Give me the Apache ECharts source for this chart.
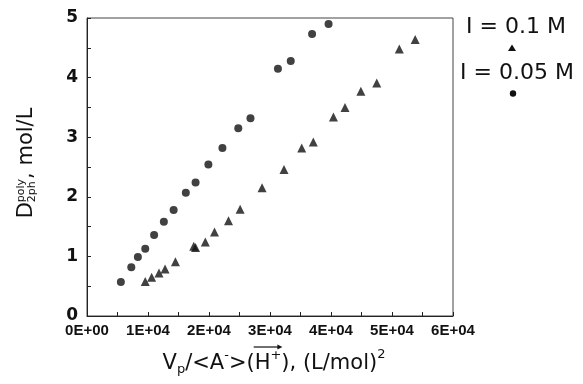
<!DOCTYPE html>
<html>
<head>
<meta charset="utf-8">
<script src="https://cdn.jsdelivr.net/npm/echarts@6/dist/echarts.min.js"></script>
<style>
    html, body { margin: 0; padding: 0; background: #fff; }
    #chart { width: 583px; height: 384px; }
</style>
</head>
<body>
<div id="chart"></div>
<script>
// I = 0.05 M (circles)
var circleX = [5550, 7260, 8340, 9550, 11000, 12600, 14200, 16200, 17800, 19900, 22200, 24800, 26800, 31300, 33400, 36900, 39600];
var circleY = [0.57, 0.82, 0.99, 1.13, 1.36, 1.58, 1.78, 2.07, 2.24, 2.54, 2.82, 3.15, 3.32, 4.15, 4.28, 4.73, 4.90];
// I = 0.1 M (triangles)
var triX = [9550, 10600, 11800, 12800, 14500, 17500, 17800, 19400, 20900, 23200, 25100, 28700, 32300, 35200, 37100, 40400, 42300, 44900, 47500, 51200, 53800];
var triY = [0.58, 0.65, 0.72, 0.79, 0.91, 1.17, 1.15, 1.24, 1.41, 1.60, 1.79, 2.15, 2.46, 2.82, 2.92, 3.34, 3.50, 3.77, 3.91, 4.48, 4.64];

var xTickLabels = ['0E+00', '1E+04', '2E+04', '3E+04', '4E+04', '5E+04', '6E+04'];
var yTickLabels = ['0', '1', '2', '3', '4', '5'];
var legendLabels = ['I = 0.1 M', 'I = 0.05 M'];

var chart = echarts.init(document.getElementById('chart'));

var ctx = document.createElement('canvas').getContext('2d');
function textWidth(t, size) {
    ctx.font = size + 'px "DejaVu Sans"';
    return ctx.measureText(t).width;
}

function zip(xs, ys) {
    return xs.map(function (x, i) { return [x, ys[i]]; });
}

// lay out a run of text pieces, sub/superscripts via dy, "stack" puts a piece under the previous one
function layoutRun(pieces) {
    var x = 0, last = 0, out = [];
    pieces.forEach(function (p) {
        var w = textWidth(p.t, p.s);
        if (p.stack) {
            x = last;
        }
        out.push({ t: p.t, s: p.s, dy: p.dy || 0, x: x, w: w });
        if (p.stack) {
            x = last + Math.max(w, out[out.length - 2].w);
        } else {
            last = x;
            x += w;
        }
    });
    return { items: out, width: x };
}

function textEls(run, x0, y0) {
    return run.items.map(function (p) {
        return {
            type: 'text',
            x: x0 + p.x,
            y: y0 + p.dy,
            style: {
                text: p.t,
                font: p.s + 'px "DejaVu Sans"',
                fill: '#111',
                align: 'left', textAlign: 'left',
                verticalAlign: 'middle', textVerticalAlign: 'middle'
            }
        };
    });
}

// x axis title
var xRun = layoutRun([
    { t: 'V', s: 21 },
    { t: 'p', s: 13, dy: 6 },
    { t: '/<A', s: 21 },
    { t: '-', s: 13, dy: -8 },
    { t: '>(', s: 21 },
    { t: 'H', s: 21 },
    { t: '+', s: 13, dy: -8 },
    { t: '), (L/mol)', s: 21 },
    { t: '2', s: 13, dy: -9 }
]);
var xTitleY = 364;
var xTitleX = 274 - xRun.width / 2;
var hItem = xRun.items[5], plusItem = xRun.items[6];
var arrowY = xTitleY - 17;
var arrowX1 = xTitleX + hItem.x - 1;
var arrowX2 = xTitleX + plusItem.x + plusItem.w + 1;

// y axis title (rotated)
var yRun = layoutRun([
    { t: 'D', s: 21 },
    { t: 'poly', s: 11, dy: -6 },
    { t: '2ph', s: 11, dy: 5, stack: true },
    { t: ', mol/L', s: 21 }
]);

var graphics = textEls(xRun, xTitleX, xTitleY);
graphics.push({
    type: 'line',
    shape: { x1: arrowX1, y1: arrowY, x2: arrowX2 - 3, y2: arrowY },
    style: { stroke: '#111', lineWidth: 1.2 }
});
graphics.push({
    type: 'polygon',
    shape: { points: [[arrowX2, arrowY], [arrowX2 - 5, arrowY - 2.5], [arrowX2 - 5, arrowY + 2.5]] },
    style: { fill: '#111' }
});
graphics.push({
    type: 'group',
    x: 27,
    y: 163,
    rotation: Math.PI / 2,
    children: textEls(yRun, -yRun.width / 2, 0)
});

// legend: text with the symbol underneath
graphics.push({
    type: 'text', x: 516, y: 27,
    style: { text: legendLabels[0], font: '22px "DejaVu Sans"', fill: '#111', align: 'center', textAlign: 'center', verticalAlign: 'middle', textVerticalAlign: 'middle' }
});
graphics.push({
    type: 'polygon',
    shape: { points: [[512, 44.5], [508, 51], [516, 51]] },
    style: { fill: '#111' }
});
graphics.push({
    type: 'text', x: 517, y: 73,
    style: { text: legendLabels[1], font: '22px "DejaVu Sans"', fill: '#111', align: 'center', textAlign: 'center', verticalAlign: 'middle', textVerticalAlign: 'middle' }
});
graphics.push({
    type: 'circle',
    shape: { cx: 513, cy: 93.5, r: 3.2 },
    style: { fill: '#111' }
});

var option = {
    animation: false,
    backgroundColor: '#fff',
    grid: {
        left: 87, right: 130, top: 18, bottom: 68,
        show: true, borderColor: '#444', borderWidth: 1
    },
    xAxis: {
        type: 'value',
        min: 0, max: 60000, interval: 10000,
        axisLine: { lineStyle: { color: '#222', width: 1 } },
        axisTick: { inside: true, length: 4, lineStyle: { color: '#222' } },
        minorTick: { show: true, splitNumber: 2, length: 4, lineStyle: { color: '#222' } },
        splitLine: { show: false },
        axisLabel: {
            margin: 7,
            fontFamily: 'Liberation Sans', fontWeight: 'bold', fontSize: 15, color: '#111',
            formatter: function (v) { return xTickLabels[Math.round(v / 10000)]; }
        }
    },
    yAxis: {
        type: 'value',
        min: 0, max: 5, interval: 1,
        axisLine: { show: true, lineStyle: { color: '#222', width: 1 } },
        axisTick: { show: true, inside: true, length: 4, lineStyle: { color: '#222' } },
        minorTick: { show: true, splitNumber: 2, length: 4, lineStyle: { color: '#222' } },
        splitLine: { show: false },
        axisLabel: {
            margin: 9,
            fontFamily: 'DejaVu Sans', fontWeight: 'bold', fontSize: 17, color: '#111',
            formatter: function (v) { return yTickLabels[Math.round(v)]; }
        }
    },
    series: [
        {
            name: legendLabels[0],
            type: 'scatter',
            symbol: 'triangle',
            symbolSize: 9,
            itemStyle: { color: '#111' },
            data: zip(triX, triY)
        },
        {
            name: legendLabels[1],
            type: 'scatter',
            symbol: 'circle',
            symbolSize: 8,
            itemStyle: { color: '#111' },
            data: zip(circleX, circleY)
        }
    ],
    graphic: graphics
};

chart.setOption(option);
</script>
</body>
</html>
